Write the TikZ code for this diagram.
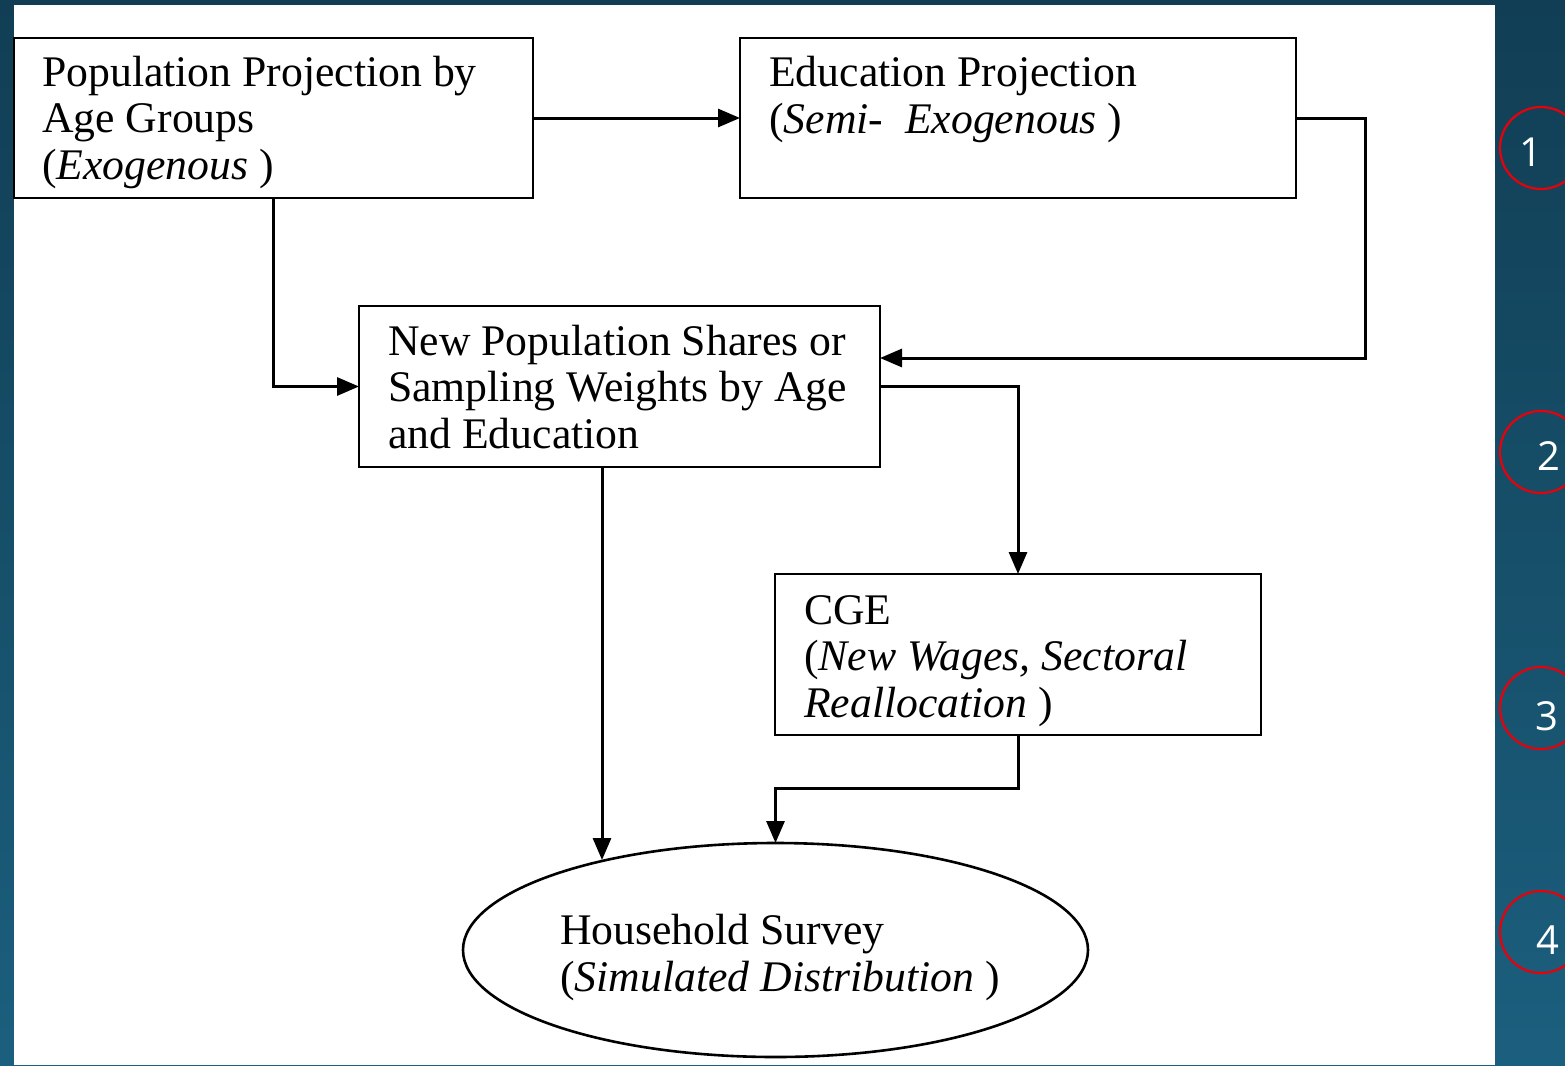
\documentclass[tikz,border=0pt]{standalone}
\usepackage{fontspec}
\setmainfont{Liberation Serif}
\newfontfamily\numfont{Open Sans}
\usetikzlibrary{shapes.geometric,arrows.meta,calc}
\definecolor{bgtop}{HTML}{113E54}
\definecolor{bgbot}{HTML}{1B5F7E}
\definecolor{ringred}{HTML}{E8000B}
\begin{document}
\begin{tikzpicture}[x=1pt,y=-1pt,
  boxnode/.style={draw=black,line width=2.6pt,rectangle,inner sep=0,outer sep=0,anchor=north west},
  txt/.style={font=\fontsize{43.7}{46.5}\selectfont,align=left,inner sep=0,anchor=base west},
  arr/.style={line width=3pt,-{Triangle[length=22pt,width=18pt]}},
  ring/.style={draw=ringred,line width=2.2pt,circle,minimum size=82pt,inner sep=0},
  num/.style={text=white,font=\numfont\fontsize{40}{42}\selectfont,inner sep=0}]
\useasboundingbox (0,0) rectangle (1565,1065);
\shade[top color=bgtop,bottom color=bgbot] (0,0) rectangle (1565,1065);
\fill[white] (14,5) rectangle (1495,1065);
% boxes
\node[boxnode,minimum width=519pt,minimum height=160pt] (b1) at (14,38) {};
\node[boxnode,minimum width=556pt,minimum height=160pt] (b2) at (740,38) {};
\node[boxnode,minimum width=521pt,minimum height=161pt] (b3) at (359,306) {};
\node[boxnode,minimum width=486pt,minimum height=161pt] (b4) at (775,574) {};
\node[draw=black,line width=2.6pt,ellipse,minimum width=625pt,minimum height=214pt,inner sep=0,outer sep=0] (ell) at (775.5,950) {};
% texts (base anchor = baseline of the last line)
\node[txt] (t1) at (42,179) {Population Projection by\\Age Groups\\(\textit{Exogenous} )};
\node[txt] (t2) at (769,133) {Education Projection\\(\textit{Semi-\ \ Exogenous} )};
\node[txt] (t3) at (388,448) {New Population Shares or\\Sampling Weights by Age\\and Education};
\node[txt] (t4) at (804,717) {CGE\\(\textit{New Wages, Sectoral}\\\textit{Reallocation} )};
\node[txt] (t5) at (560,991) {Household Survey\\(\textit{Simulated Distribution} )};
% connectors
\draw[arr] (b1) -- (b2);
\draw[arr] (b2.east) -- ++(69,0) |- ([yshift=28.5pt]b3.east);
\draw[arr] (b1.south) |- (b3.west);
\draw[arr] (b3.east) -| (b4.north);
\draw[arr] ([xshift=-17.5pt]b3.south) -- ([xshift=-17.5pt]b3.south |- ell.152.8);
\draw[arr] (b4.south) -- ++(0,53) -| (ell.north);
% side markers
\node[ring] (c1) at (1541,148) {};
\node[ring] (c2) at (1541,452) {};
\node[ring] (c3) at (1541,708) {};
\node[ring] (c4) at (1541,932) {};
\node[num] (n1) at (1531,152) {1};
\node[num] (n2) at (1549,456) {2};
\node[num] (n3) at (1547,716) {3};
\node[num] (n4) at (1548,940) {4};
\end{tikzpicture}
\end{document}
